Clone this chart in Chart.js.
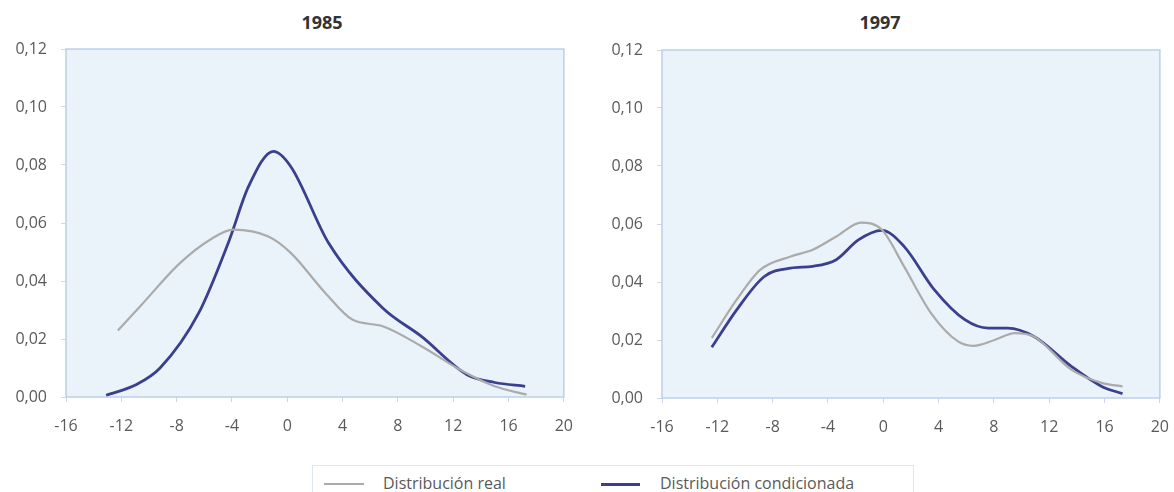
<!DOCTYPE html>
<html>
<head>
<meta charset="utf-8">
<script src="https://cdn.jsdelivr.net/npm/chart.js@4.4.0/dist/chart.umd.min.js"></script>
<style>
  html, body { margin: 0; padding: 0; background: #fff; overflow: hidden; }
  body { width: 1174px; height: 492px; position: relative; font-family: "Open Sans", sans-serif; }
  .box { position: absolute; width: 588px; height: 440px; }
  .title { position: absolute; top: 11px; width: 120px; text-align: center; font-size: 18px; font-weight: bold; color: #333; line-height: 22px; }
  #legend {
    position: absolute; left: 312px; top: 465px; width: 602px; height: 40px;
    border: 1px solid #dfe7f1; box-sizing: border-box;
  }
  #legend .swatch { position: absolute; top: 17px; }
  #legend .lbl { position: absolute; top: 6px; font-size: 16px; color: #5a5a5a; line-height: 22px; }
</style>
</head>
<body>
<div class="title" style="left:262px">1985</div>
<div class="title" style="left:820px">1997</div>
<div class="box" style="left:0;top:0"><canvas id="chart1985"></canvas></div>
<div class="box" style="left:596px;top:1px"><canvas id="chart1997"></canvas></div>
<div id="legend">
  <div class="swatch" style="left:11px;width:40px;height:2px;background:#ababab"></div>
  <div class="lbl" style="left:70px">Distribución real</div>
  <div class="swatch" style="left:288px;width:39px;height:3px;background:#3a3f8e"></div>
  <div class="lbl" style="left:347px">Distribución condicionada</div>
</div>
<script>
// x axis tick values
const xTicks = [-16, -12, -8, -4, 0, 4, 8, 12, 16, 20];

// 1985 - distribución real
const x1985Real = [-12.25, -10.5, -7.8, -5.5, -3.9, -1.4, 0.25, 2.75, 4.7, 6.9, 9.7, 12.5, 15.0, 17.3];
const y1985Real = [0.0229, 0.032, 0.046, 0.0545, 0.0577, 0.0554, 0.0497, 0.0359, 0.0267, 0.0244, 0.0175, 0.0094, 0.0037, 0.0008];
// 1985 - distribución condicionada
const x1985Cond = [-13.1, -10.9, -9.2, -6.4, -4.2, -2.8, -1.0, 0.25, 3.0, 6.9, 9.7, 13.0, 15.0, 17.2];
const y1985Cond = [0.0006, 0.0043, 0.010, 0.029, 0.054, 0.0726, 0.0847, 0.0795, 0.053, 0.0307, 0.0209, 0.0077, 0.005, 0.0037];

// 1997 - distribución real
const x1997Real = [-12.4, -10.6, -8.9, -6.7, -5.1, -3.4, -1.6, -0.1, 1.5, 3.45, 5.4, 6.5, 8.1, 9.5, 10.9, 13.6, 15.8, 17.3];
const y1997Real = [0.0207, 0.0339, 0.0442, 0.0488, 0.0511, 0.0557, 0.0605, 0.058, 0.0454, 0.0293, 0.0195, 0.018, 0.0201, 0.0224, 0.0212, 0.0098, 0.0052, 0.004];
// 1997 - distribución condicionada
const x1997Cond = [-12.4, -10.6, -8.6, -6.7, -5.1, -3.4, -1.8, -0.1, 1.5, 3.7, 5.9, 7.6, 9.0, 10.9, 13.6, 15.8, 17.3];
const y1997Cond = [0.0175, 0.0304, 0.0419, 0.0448, 0.0454, 0.0477, 0.0545, 0.0578, 0.0523, 0.0373, 0.027, 0.0241, 0.0241, 0.0212, 0.0109, 0.004, 0.0015];

const toPoints = (xs, ys) => xs.map((x, i) => ({ x: x, y: ys[i] }));

// light blue plot background + frame
const plotFrame = {
  id: 'plotFrame',
  beforeDatasetsDraw(chart) {
    const a = chart.chartArea;
    const ctx = chart.ctx;
    ctx.save();
    ctx.fillStyle = '#eaf2fa';
    ctx.fillRect(a.left, a.top, a.right - a.left, a.bottom - a.top);
    ctx.strokeStyle = '#bccfea';
    ctx.lineWidth = 1.5;
    ctx.strokeRect(a.left, a.top, a.right - a.left, a.bottom - a.top);
    ctx.restore();
  }
};

function makeChart(id, real, cond) {
  return new Chart(document.getElementById(id), {
    type: 'scatter',
    data: {
      datasets: [
        {
          label: 'Distribución real',
          data: real,
          showLine: true,
          borderColor: '#ababab',
          borderWidth: 2.2,
          pointRadius: 0,
          cubicInterpolationMode: 'monotone'
        },
        {
          label: 'Distribución condicionada',
          data: cond,
          showLine: true,
          borderColor: '#3a3f8e',
          borderWidth: 2.8,
          pointRadius: 0,
          cubicInterpolationMode: 'monotone'
        }
      ]
    },
    options: {
      responsive: true,
      maintainAspectRatio: false,
      animation: false,
      layout: { padding: { left: 0, right: 4, top: 49, bottom: 0 } },
      plugins: {
        legend: { display: false },
        tooltip: { enabled: false },
        title: { display: false }
      },
      scales: {
        x: {
          type: 'linear',
          min: -16,
          max: 20,
          afterBuildTicks: (scale) => { scale.ticks = xTicks.map(v => ({ value: v })); },
          afterFit: (scale) => { scale.height = 43; },
          border: { display: false },
          grid: { drawOnChartArea: false, drawTicks: true, tickLength: 5, color: '#c9d8ec' },
          ticks: {
            padding: 15,
            color: '#5a5a5a',
            font: { family: 'Open Sans', size: 16 },
            maxRotation: 0
          }
        },
        y: {
          min: 0,
          max: 0.12,
          afterFit: (scale) => { scale.width = 66; },
          border: { display: false },
          grid: { drawOnChartArea: false, drawTicks: true, tickLength: 5, color: '#c9d8ec' },
          ticks: {
            stepSize: 0.02,
            padding: 14,
            color: '#5a5a5a',
            font: { family: 'Open Sans', size: 16 },
            callback: (v) => v.toFixed(2).replace('.', ',')
          }
        }
      }
    },
    plugins: [plotFrame]
  });
}

makeChart('chart1985', toPoints(x1985Real, y1985Real), toPoints(x1985Cond, y1985Cond));
makeChart('chart1997', toPoints(x1997Real, y1997Real), toPoints(x1997Cond, y1997Cond));
</script>
</body>
</html>
